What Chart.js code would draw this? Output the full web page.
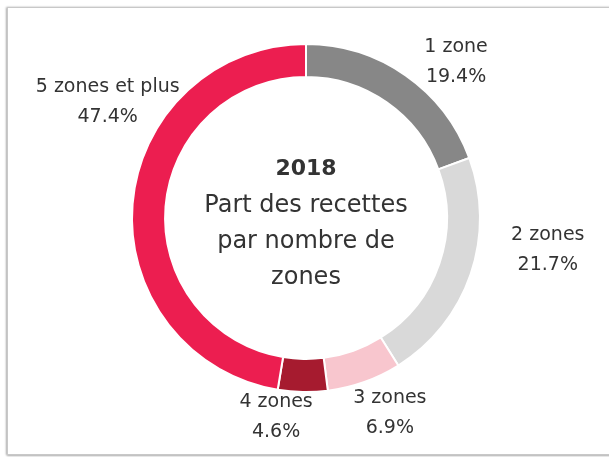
<!DOCTYPE html>
<html>
<head>
<meta charset="utf-8">
<script src="https://cdn.jsdelivr.net/npm/chart.js@4/dist/chart.umd.min.js"></script>
<style>
    html, body { margin: 0; padding: 0; background: #fff; overflow: hidden; }
    .frame {
        position: absolute; left: 7px; top: 7px; width: 620px; height: 446px;
        border: 1px solid #c8c8c8;
        box-shadow: -1px 0 2px rgba(0,0,0,0.25), 0 1px 2px rgba(0,0,0,0.25);
    }
    #chart { position: absolute; left: 0; top: 0; }
</style>
</head>
<body>
<div class="frame"></div>
<canvas id="chart" width="609" height="457"></canvas>
<script>
const categories = ["1 zone", "2 zones", "3 zones", "4 zones", "5 zones et plus"];
const shares = [19.4, 21.7, 6.9, 4.6, 47.4];
const centerTitle = "2018";
const centerLines = ["Part des recettes", "par nombre de", "zones"];

const sliceColors = ["#878787", "#d9d9d9", "#f8c6ce", "#a61b2f", "#ec1e50"];
// label nudges (px) from the default anchor just outside each arc
const labelNudges = [[31, 5], [45, -45], [14, -11], [-26, -19], [9, -109]];

const TEXT_COLOR = "#333333";
const FONT = "'DejaVu Sans', sans-serif";

const outsideLabels = {
    id: "outsideLabels",
    afterDatasetsDraw(chart) {
        const ctx = chart.ctx;
        const meta = chart.getDatasetMeta(0);
        ctx.save();
        ctx.fillStyle = TEXT_COLOR;
        ctx.textAlign = "center";
        ctx.textBaseline = "alphabetic";
        ctx.font = "19px " + FONT;
        meta.data.forEach((arc, i) => {
            const mid = (arc.startAngle + arc.endAngle) / 2;
            const r = arc.outerRadius + 34;
            const x = arc.x + Math.cos(mid) * r + labelNudges[i][0];
            const y = arc.y + Math.sin(mid) * r + labelNudges[i][1];
            ctx.fillText(categories[i], x, y);
            ctx.fillText(shares[i].toFixed(1) + "%", x, y + 30);
        });

        // center text
        const arc0 = meta.data[0];
        const cx = arc0.x, cy = arc0.y;
        ctx.font = "bold 22px " + FONT;
        ctx.fillText(centerTitle, cx, cy - 43);
        ctx.font = "24px " + FONT;
        centerLines.forEach((line, i) => {
            ctx.fillText(line, cx, cy - 6 + i * 36);
        });
        ctx.restore();
    }
};

new Chart(document.getElementById("chart").getContext("2d"), {
    type: "doughnut",
    data: {
        labels: categories,
        datasets: [{
            data: shares,
            backgroundColor: sliceColors,
            borderColor: "#ffffff",
            borderWidth: 2,
            hoverOffset: 0
        }]
    },
    options: {
        responsive: false,
        animation: false,
        radius: 174,
        cutout: "81%",
        layout: { padding: { left: 3, right: 0, top: 0, bottom: 21 } },
        plugins: {
            legend: { display: false },
            tooltip: { enabled: false }
        }
    },
    plugins: [outsideLabels]
});
</script>
</body>
</html>
